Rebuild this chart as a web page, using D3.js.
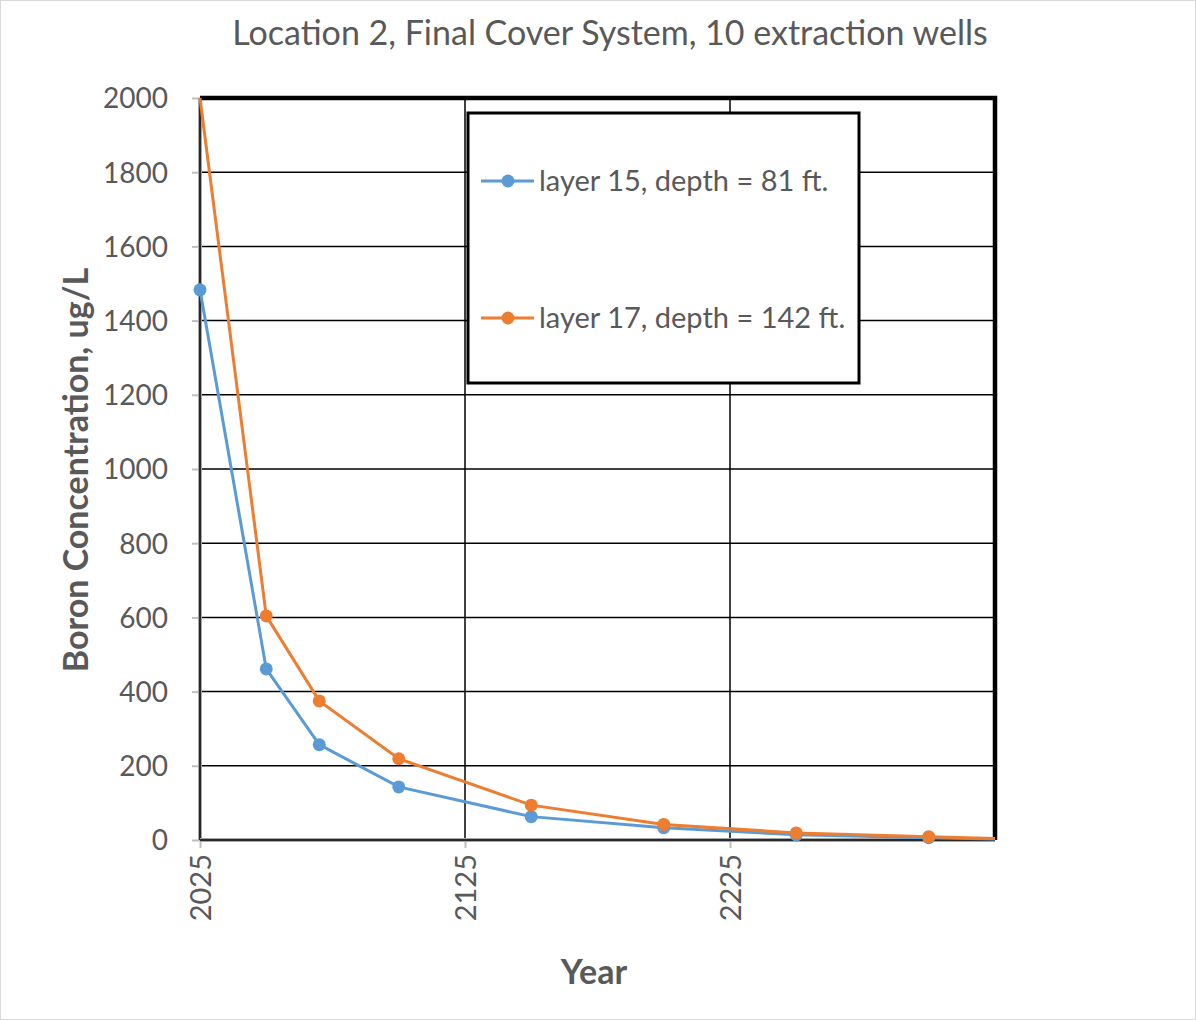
<!DOCTYPE html>
<html><head><meta charset="utf-8">
<script src="https://cdn.jsdelivr.net/npm/d3@7"></script>
<style>body{margin:0;background:#fff}svg{display:block}text{font-family:Lato,"Open Sans",sans-serif}</style>
</head><body><svg id="c" width="1196" height="1020"></svg>
<script>
const years = [2025, 2050, 2070, 2100, 2150, 2200, 2250, 2300, 2325];
const layer15 = [1483, 461, 257, 143, 63, 33, 14, 6, 3];
const layer17 = [2000, 604, 375, 219, 94, 42, 19, 9, 4];
const seriesNames = ["layer 15, depth = 81 ft.", "layer 17, depth = 142 ft."];
const colors = ["#5B9BD5", "#ED7D31"];
const yTicks = [0,200,400,600,800,1000,1200,1400,1600,1800,2000];
const xTicks = [2025, 2125, 2225];
const xDomain = [2025, 2325];
const yDomain = [0, 2000];

const svg = d3.select("#c");
const L=200, R=995, T=98, B=840;
const x = d3.scaleLinear().domain(xDomain).range([L,R]);
const y = d3.scaleLinear().domain(yDomain).range([B,T]);

svg.append("rect").attr("x",0.5).attr("y",0.5).attr("width",1195).attr("height",1019).attr("fill","#fff").attr("stroke","#d9d9d9");

svg.append("text").attr("x",610).attr("y",45).attr("text-anchor","middle").attr("font-size",34).attr("fill","#595959")
  .text("Location 2, Final Cover System, 10 extraction wells");

// grid
const g = svg.append("g");
g.selectAll(".hg").data(yTicks.filter(v=>v>0 && v<2000)).join("line")
  .attr("x1",L).attr("x2",R).attr("y1",d=>y(d)).attr("y2",d=>y(d)).attr("stroke","#000").attr("stroke-width",1.5);
g.selectAll(".vg").data(xTicks.filter(v=>v>xDomain[0])).join("line")
  .attr("y1",T).attr("y2",B).attr("x1",d=>x(d)).attr("x2",d=>x(d)).attr("stroke","#000").attr("stroke-width",1.5);

// axes
const yAxis = d3.axisLeft(y).tickValues(yTicks).tickSize(8).tickPadding(8).tickFormat(d3.format("d"));
const ya = svg.append("g").attr("transform",`translate(${L},0)`).call(yAxis);
ya.select(".domain").remove();
ya.selectAll("line").attr("stroke","#bfbfbf").attr("stroke-width",2);
ya.selectAll("text").attr("font-size",28).attr("fill","#595959").attr("x",-32).attr("dy","0.35em");

const xAxis = d3.axisBottom(x).tickValues(xTicks).tickSize(8).tickFormat(d3.format("d"));
const xa = svg.append("g").attr("transform",`translate(0,${B})`).call(xAxis);
xa.select(".domain").remove();
xa.selectAll("line").attr("stroke","#bfbfbf").attr("stroke-width",2);
xa.selectAll("text").attr("font-size",29).attr("fill","#595959")
  .attr("transform","rotate(-90)").attr("text-anchor","end").attr("x",-14).attr("y",0).attr("dy","0.35em");

// left & bottom axis lines (black with gray edge)
svg.append("line").attr("x1",L).attr("x2",L).attr("y1",T).attr("y2",B).attr("stroke","#a6a6a6").attr("stroke-width",4);
svg.append("line").attr("x1",L).attr("x2",L).attr("y1",T).attr("y2",B).attr("stroke","#000").attr("stroke-width",1.5);
svg.append("line").attr("x1",L).attr("x2",R).attr("y1",B).attr("y2",B).attr("stroke","#a6a6a6").attr("stroke-width",4);
svg.append("line").attr("x1",L).attr("x2",R).attr("y1",B).attr("y2",B).attr("stroke","#000").attr("stroke-width",1.5);
// top & right thick border
svg.append("path").attr("d",`M${L},${T}H${R}V${B}`).attr("fill","none").attr("stroke","#000").attr("stroke-width",4.5);

// series
const data = [layer15, layer17];
const line = d3.line().x((d,i)=>x(years[i])).y(d=>y(d));
data.forEach((vals,si)=>{
  svg.append("path").datum(vals).attr("d",line).attr("fill","none").attr("stroke",colors[si]).attr("stroke-width",3);
});
data.forEach((vals,si)=>{
  const pts = vals.map((v,i)=>({v, yr:years[i]})).filter(p=>p.v<yDomain[1] && p.yr<xDomain[1]);
  svg.selectAll(null).data(pts).join("circle").attr("cx",p=>x(p.yr)).attr("cy",p=>y(p.v)).attr("r",6.5).attr("fill",colors[si]);
});

// legend
svg.append("rect").attr("x",468).attr("y",113).attr("width",391).attr("height",270).attr("fill","#fff").attr("stroke","#000").attr("stroke-width",3);
const ly = [181, 318];
seriesNames.forEach((n,i)=>{
  svg.append("line").attr("x1",481).attr("x2",534).attr("y1",ly[i]).attr("y2",ly[i]).attr("stroke",colors[i]).attr("stroke-width",3);
  svg.append("circle").attr("cx",508).attr("cy",ly[i]).attr("r",6.5).attr("fill",colors[i]);
  svg.append("text").attr("x",539).attr("y",ly[i]).attr("dy","0.35em").attr("font-size",29).attr("fill","#595959").text(n);
});

// axis titles
svg.append("text").attr("transform","translate(88,470) rotate(-90)").attr("text-anchor","middle").attr("font-size",34).attr("font-weight","bold").attr("fill","#595959").text("Boron Concentration, ug/L");
svg.append("text").attr("x",594).attr("y",984).attr("text-anchor","middle").attr("font-size",34).attr("font-weight","bold").attr("fill","#595959").text("Year");
</script></body></html>
